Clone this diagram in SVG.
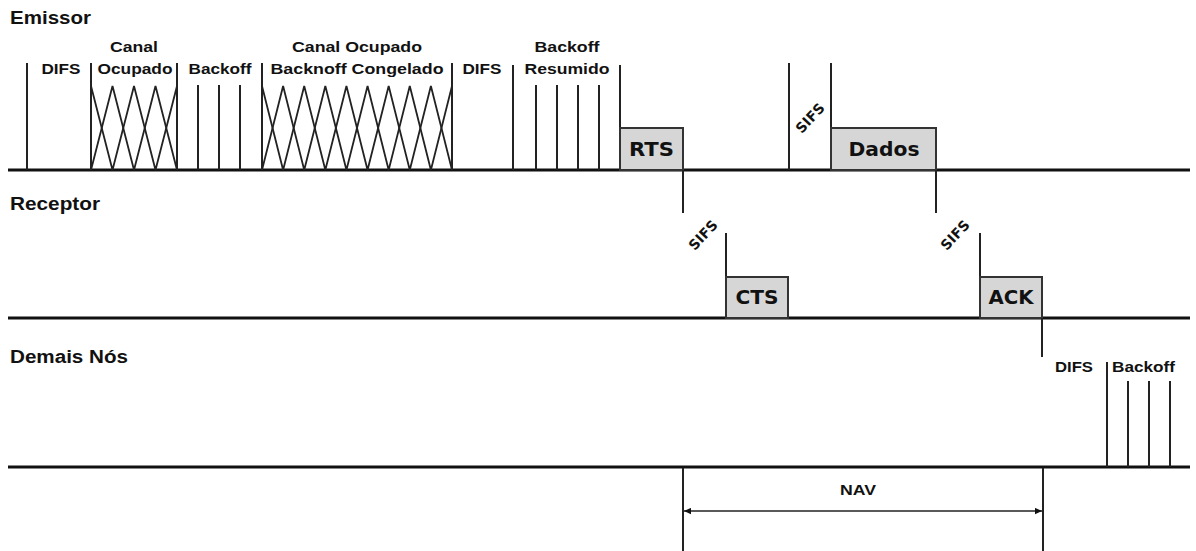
<svg xmlns="http://www.w3.org/2000/svg" width="1196" height="551" viewBox="0 0 1196 551">
<defs>
<style>
.lane{font-family:"Liberation Sans",Arial,sans-serif;font-weight:bold;font-size:18px;fill:#111}
.lbl{font-family:"Liberation Sans",Arial,sans-serif;font-weight:bold;font-size:15.5px;fill:#111}
.frm{font-family:"DejaVu Sans",Verdana,sans-serif;font-weight:bold;font-size:19px;fill:#111}
.sifs{font-family:"DejaVu Sans",Verdana,sans-serif;font-weight:bold;font-size:14px;fill:#111}
.base{stroke:#111;stroke-width:3;fill:none}
.tick{stroke:#222;stroke-width:2;fill:none}
.zz{stroke:#222;stroke-width:1.8;fill:none;stroke-linejoin:miter}
.box{fill:#d6d6d6;stroke:#333;stroke-width:2}
</style>
<marker id="ah" viewBox="0 0 10 10" refX="10" refY="5" markerWidth="8" markerHeight="7" orient="auto-start-reverse" markerUnits="userSpaceOnUse">
<path d="M0,0.5 L10,5 L0,9.5 Z" fill="#111"/>
</marker>
</defs>
<rect width="1196" height="551" fill="#fff"/>

<g id="lanes">
<line class="base" x1="8" y1="170" x2="1190" y2="170"/>
<line class="base" x1="8" y1="318" x2="1190" y2="318"/>
<line class="base" x1="8" y1="467" x2="1190" y2="467"/>
<text class="lane" x="10" y="24" textLength="81" lengthAdjust="spacingAndGlyphs">Emissor</text>
<text class="lane" x="10" y="210" textLength="90" lengthAdjust="spacingAndGlyphs">Receptor</text>
<text class="lane" x="10" y="363" textLength="118" lengthAdjust="spacingAndGlyphs">Demais Nós</text>
</g>

<g id="emissor-difs1">
<line class="tick" x1="27" y1="63" x2="27" y2="170"/>
<text class="lbl" x="61" y="74" text-anchor="middle" textLength="39" lengthAdjust="spacingAndGlyphs">DIFS</text>
</g>

<g id="emissor-canal-ocupado">
<line class="tick" x1="91" y1="63" x2="91" y2="170"/>
<line class="tick" x1="177" y1="63" x2="177" y2="170"/>
<polyline class="zz" points="91,170 112.5,86 134,170 155.5,86 177,170"/>
<polyline class="zz" points="91,86 112.5,170 134,86 155.5,170 177,86"/>
<text class="lbl" x="134" y="52" text-anchor="middle" textLength="48" lengthAdjust="spacingAndGlyphs">Canal</text>
<text class="lbl" x="135" y="74" text-anchor="middle" textLength="75" lengthAdjust="spacingAndGlyphs">Ocupado</text>
</g>

<g id="emissor-backoff">
<line class="tick" x1="198" y1="85" x2="198" y2="170"/>
<line class="tick" x1="219" y1="85" x2="219" y2="170"/>
<line class="tick" x1="240" y1="85" x2="240" y2="170"/>
<text class="lbl" x="220" y="74" text-anchor="middle" textLength="63" lengthAdjust="spacingAndGlyphs">Backoff</text>
</g>

<g id="emissor-congelado">
<line class="tick" x1="262" y1="63" x2="262" y2="170"/>
<line class="tick" x1="452" y1="63" x2="452" y2="170"/>
<polyline class="zz" points="262,170 283.11,86 304.22,170 325.33,86 346.44,170 367.56,86 388.67,170 409.78,86 430.89,170 452,86"/>
<polyline class="zz" points="262,86 283.11,170 304.22,86 325.33,170 346.44,86 367.56,170 388.67,86 409.78,170 430.89,86 452,170"/>
<text class="lbl" x="357" y="52" text-anchor="middle" textLength="130" lengthAdjust="spacingAndGlyphs">Canal Ocupado</text>
<text class="lbl" x="357" y="74" text-anchor="middle" textLength="173" lengthAdjust="spacingAndGlyphs">Backnoff Congelado</text>
</g>

<g id="emissor-difs2">
<line class="tick" x1="513" y1="65" x2="513" y2="170"/>
<text class="lbl" x="482" y="74" text-anchor="middle" textLength="39" lengthAdjust="spacingAndGlyphs">DIFS</text>
</g>

<g id="emissor-backoff-resumido">
<line class="tick" x1="536" y1="85" x2="536" y2="170"/>
<line class="tick" x1="557" y1="85" x2="557" y2="170"/>
<line class="tick" x1="578" y1="85" x2="578" y2="170"/>
<line class="tick" x1="599" y1="85" x2="599" y2="170"/>
<text class="lbl" x="567" y="52" text-anchor="middle" textLength="65" lengthAdjust="spacingAndGlyphs">Backoff</text>
<text class="lbl" x="567" y="74" text-anchor="middle" textLength="85" lengthAdjust="spacingAndGlyphs">Resumido</text>
</g>

<g id="rts">
<line class="tick" x1="620" y1="65" x2="620" y2="128"/>
<rect class="box" x="620" y="128" width="63" height="42"/>
<text class="frm" x="651.5" y="156" text-anchor="middle" textLength="45" lengthAdjust="spacingAndGlyphs">RTS</text>
</g>

<g id="emissor-sifs">
<line class="tick" x1="789" y1="63" x2="789" y2="170"/>
<text class="sifs" transform="translate(810,118) rotate(-47)" x="0" y="5" text-anchor="middle">SIFS</text>
</g>

<g id="dados">
<line class="tick" x1="831" y1="63" x2="831" y2="128"/>
<rect class="box" x="831" y="128" width="105" height="42"/>
<text class="frm" x="884" y="156" text-anchor="middle" textLength="71" lengthAdjust="spacingAndGlyphs">Dados</text>
</g>

<g id="receptor-sifs1">
<text class="sifs" transform="translate(703,235) rotate(-47)" x="0" y="5" text-anchor="middle">SIFS</text>
</g>

<g id="cts">
<line class="tick" x1="726" y1="233" x2="726" y2="277"/>
<rect class="box" x="726" y="277" width="62" height="41"/>
<text class="frm" x="757" y="304" text-anchor="middle" textLength="43" lengthAdjust="spacingAndGlyphs">CTS</text>
</g>

<g id="receptor-sifs2">
<text class="sifs" transform="translate(955,235) rotate(-47)" x="0" y="5" text-anchor="middle">SIFS</text>
</g>

<g id="ack">
<line class="tick" x1="980" y1="233" x2="980" y2="277"/>
<rect class="box" x="980" y="277" width="62" height="41"/>
<text class="frm" x="1011" y="304" text-anchor="middle" textLength="45" lengthAdjust="spacingAndGlyphs">ACK</text>
</g>

<g id="demais-difs">
<text class="lbl" x="1074" y="372" text-anchor="middle" textLength="38" lengthAdjust="spacingAndGlyphs">DIFS</text>
</g>

<g id="demais-backoff">
<line class="tick" x1="1107" y1="362" x2="1107" y2="467"/>
<line class="tick" x1="1128" y1="381" x2="1128" y2="467"/>
<line class="tick" x1="1149" y1="381" x2="1149" y2="467"/>
<line class="tick" x1="1170" y1="381" x2="1170" y2="467"/>
<text class="lbl" x="1112" y="372" textLength="63" lengthAdjust="spacingAndGlyphs">Backoff</text>
</g>

<g id="nav">
<text class="lbl" x="858" y="495" text-anchor="middle" textLength="36" lengthAdjust="spacingAndGlyphs">NAV</text>
</g>

<g id="connectors">
<line class="tick" x1="683" y1="170" x2="683" y2="213"/>
<line class="tick" x1="936" y1="170" x2="936" y2="213"/>
<line class="tick" x1="1042" y1="318" x2="1042" y2="357"/>
<line class="tick" x1="683" y1="468" x2="683" y2="551"/>
<line class="tick" x1="1043" y1="468" x2="1043" y2="551"/>
<line stroke="#222" stroke-width="1.5" x1="684" y1="511" x2="1042" y2="511" marker-start="url(#ah)" marker-end="url(#ah)"/>
</g>
</svg>
